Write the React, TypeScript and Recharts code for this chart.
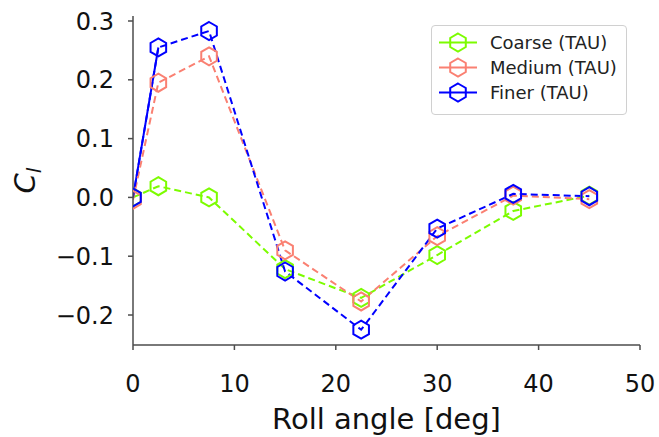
import React from 'react'
import { LineChart, Line, XAxis, YAxis, Legend } from 'recharts'

// Roll angle sweep and lift-moment coefficient per grid level
const angles = [0, 2.5, 7.5, 15, 22.5, 30, 37.5, 45]
const coarse = [0.0, 0.019, 0.0, -0.122, -0.171, -0.098, -0.023, 0.003]
const medium = [-0.004, 0.195, 0.24, -0.09, -0.177, -0.066, 0.003, -0.003]
const finer = [0.0, 0.255, 0.283, -0.126, -0.225, -0.053, 0.006, 0.002]

const xTicks = [0, 10, 20, 30, 40, 50]
const yTicks = [-0.2, -0.1, 0.0, 0.1, 0.2, 0.3]

const FONT = '"DejaVu Sans", sans-serif'
const AXIS = '#4d4d4d'
const R = 9

const series = [
    { key: 'coarse', name: 'Coarse (TAU)', color: '#7cfc00' },
    { key: 'medium', name: 'Medium (TAU)', color: '#fa8072' },
    { key: 'finer', name: 'Finer (TAU)', color: '#0000ff' },
]

const data = angles.map((angle, i) => ({
    angle,
    coarse: coarse[i],
    medium: medium[i],
    finer: finer[i],
    // first finer segment is drawn solid in the original
    finerStart: i < 2 ? finer[i] : null,
}))

const hexPoints = (cx: number, cy: number) =>
    Array.from({ length: 6 }, (_, i) => {
        const a = (Math.PI / 3) * i - Math.PI / 2
        return `${cx + R * Math.cos(a)},${cy + R * Math.sin(a)}`
    }).join(' ')

const hexagon = (color: string) => (props: any) => {
    const { cx, cy, index } = props
    if (cx == null || cy == null) return <g key={index} />
    return <polygon key={index} points={hexPoints(cx, cy)} fill="none" stroke={color} strokeWidth={2} />
}

const fmt = (v: number) => (v < 0 ? '\u2212' + Math.abs(v).toFixed(1) : v.toFixed(1))

function LegendBox() {
    return (
        <div
            style={{
                width: 194,
                height: 84,
                border: '1px solid #d0d0d0',
                borderRadius: 4,
                background: 'rgba(255,255,255,0.85)',
                paddingTop: 4,
                boxSizing: 'content-box',
                fontFamily: FONT,
                fontSize: 18,
                color: '#222',
            }}
        >
            {series.map(s => (
                <div key={s.key} style={{ display: 'flex', alignItems: 'center', height: 25 }}>
                    <svg width={52} height={25}>
                        <line x1={7} y1={12.5} x2={45} y2={12.5} stroke={s.color} strokeWidth={2} />
                        <polygon points={hexPoints(26, 12.5)} fill="none" stroke={s.color} strokeWidth={2} />
                    </svg>
                    <span style={{ marginLeft: 6, whiteSpace: 'nowrap' }}>{s.name}</span>
                </div>
            ))}
        </div>
    )
}

export default function App() {
    const tickStyle = { fontSize: 24, fill: '#111', fontFamily: FONT }
    return (
        <div style={{ position: 'absolute', left: 0, top: 0, width: 659, height: 437, background: '#fff' }}>
            <LineChart width={659} height={437} data={data} margin={{ top: 16, right: 19, left: 0, bottom: 0 }}>
                <XAxis
                    dataKey="angle"
                    type="number"
                    domain={[0, 50]}
                    ticks={xTicks}
                    allowDataOverflow
                    height={92}
                    tick={tickStyle}
                    tickSize={5}
                    tickMargin={25}
                    axisLine={{ stroke: AXIS, strokeWidth: 1.5 }}
                    tickLine={{ stroke: AXIS, strokeWidth: 1.5 }}
                    label={(p: any) => {
                        const vb = p.viewBox
                        return (
                            <text x={vb.x + vb.width / 2} y={vb.y + 84} textAnchor="middle"
                                style={{ fontSize: 29, fontFamily: FONT, fill: '#111' }}>
                                Roll angle [deg]
                            </text>
                        )
                    }}
                />
                <XAxis xAxisId="top" orientation="top" type="number" domain={[0, 50]} height={0}
                    tick={false} tickLine={false} axisLine={{ stroke: AXIS, strokeWidth: 1.5 }} />
                <YAxis
                    type="number"
                    domain={[-0.251, 0.3085]}
                    ticks={yTicks}
                    allowDataOverflow
                    width={133}
                    tick={tickStyle}
                    tickFormatter={fmt}
                    tickSize={5}
                    tickMargin={14}
                    axisLine={{ stroke: AXIS, strokeWidth: 1.5 }}
                    tickLine={{ stroke: AXIS, strokeWidth: 1.5 }}
                    label={(p: any) => {
                        const vb = p.viewBox
                        const cy = vb.y + vb.height / 2
                        return (
                            <text x={35} y={cy} textAnchor="middle" transform={`rotate(-90, 35, ${cy})`}
                                style={{ fontSize: 29, fontFamily: FONT, fill: '#111' }}>
                                <tspan fontStyle="italic">C</tspan>
                                <tspan fontStyle="italic" fontSize={20} dy={6}>l</tspan>
                            </text>
                        )
                    }}
                />
                <YAxis yAxisId="right" orientation="right" type="number" domain={[-0.251, 0.3085]} width={0}
                    tick={false} tickLine={false} axisLine={{ stroke: AXIS, strokeWidth: 1.5 }} />
                <Legend
                    layout="horizontal"
                    verticalAlign="middle"
                    align="center"
                    wrapperStyle={{ position: 'absolute', left: 431, top: 25, width: 196 }}
                    content={() => <LegendBox />}
                />
                <Line dataKey="finerStart" stroke="#0000ff" strokeWidth={2} dot={false}
                    legendType="none" isAnimationActive={false} connectNulls={false} />
                {series.map(s => (
                    <Line
                        key={s.key}
                        type="linear"
                        dataKey={s.key}
                        name={s.name}
                        stroke={s.color}
                        strokeWidth={2}
                        strokeDasharray="7 4"
                        dot={hexagon(s.color)}
                        activeDot={false}
                        isAnimationActive={false}
                    />
                ))}
            </LineChart>
        </div>
    )
}
